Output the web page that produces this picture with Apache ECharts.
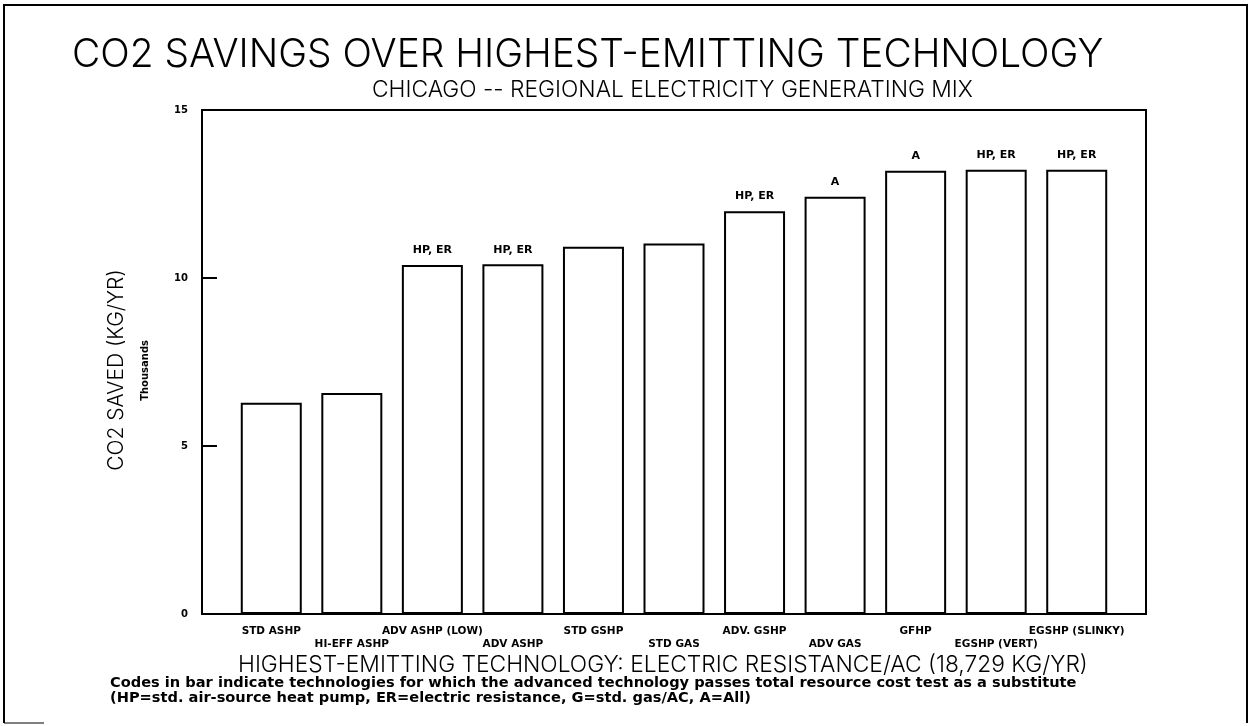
<!DOCTYPE html>
<html>
<head>
<meta charset="utf-8">
<script src="https://cdn.jsdelivr.net/npm/echarts@6/dist/echarts.min.js"></script>
<style>
  html, body { margin: 0; padding: 0; background: #fff; }
  #chart { width: 1250px; height: 726px; }
</style>
</head>
<body>
<div id="chart"></div>
<script>
// technologies, in bar order
var techs = ['STD ASHP', 'HI-EFF ASHP', 'ADV ASHP (LOW)', 'ADV ASHP', 'STD GSHP', 'STD GAS',
    'ADV. GSHP', 'ADV GAS', 'GFHP', 'EGSHP (VERT)', 'EGSHP (SLINKY)'];
// CO2 saved, thousands of kg/yr
var saved = [6.29, 6.58, 10.39, 10.41, 10.93, 11.03, 11.99, 12.42, 13.19, 13.22, 13.22];
// codes printed above the bars
var codes = ['', '', 'HP, ER', 'HP, ER', '', '', 'HP, ER', 'A', 'A', 'HP, ER', 'HP, ER'];
var yTicks = [0, 5, 10, 15];

var thinFont = 'Inter';
var plotFont = 'DejaVu Sans';

var chart = echarts.init(document.getElementById('chart'));
chart.setOption({
    animation: false,
    backgroundColor: '#fff',
    title: [{
        text: 'CO2 SAVINGS OVER HIGHEST-EMITTING TECHNOLOGY',
        left: 67, top: 31,
        textStyle: { fontFamily: thinFont, fontWeight: 300, fontSize: 38.8, color: '#000' }
    }, {
        text: 'CHICAGO -- REGIONAL ELECTRICITY GENERATING MIX',
        left: 367, top: 74,
        textStyle: { fontFamily: thinFont, fontWeight: 300, fontSize: 22.8, color: '#000' }
    }, {
        text: 'HIGHEST-EMITTING TECHNOLOGY: ELECTRIC RESISTANCE/AC (18,729 KG/YR)',
        left: 233, top: 649,
        textStyle: { fontFamily: thinFont, fontWeight: 300, fontSize: 22.8, color: '#000' }
    }, {
        text: 'Codes in bar indicate technologies for which the advanced technology passes total resource cost test as a substitute\n(HP=std. air-source heat pump, ER=electric resistance, G=std. gas/AC, A=All)',
        left: 105, top: 671,
        textStyle: { fontFamily: plotFont, fontWeight: 'bold', fontSize: 14.6, lineHeight: 15, color: '#000' }
    }],
    graphic: [{
        type: 'text',
        left: 140, top: 340,
        rotation: Math.PI / 2,
        style: { text: 'Thousands', font: 'bold 10px "DejaVu Sans"', fill: '#000' }
    }, {
        type: 'polyline',
        shape: { points: [[4, 723], [4, 5], [1247, 5], [1247, 723]] },
        style: { stroke: '#000', lineWidth: 2, fill: null }
    }, {
        type: 'line',
        shape: { x1: 4, y1: 723, x2: 44, y2: 723 },
        style: { stroke: '#000', lineWidth: 1 }
    }],
    grid: [
        { left: 202, top: 110, width: 944, height: 504, show: true, borderColor: '#000', borderWidth: 2, backgroundColor: 'transparent' },
        { left: 231, top: 110, width: 886, height: 504 }
    ],
    xAxis: [{
        gridIndex: 0, type: 'category', data: [''], show: false
    }, {
        gridIndex: 1, type: 'category', data: techs,
        axisLine: { show: false }, axisTick: { show: false },
        axisLabel: {
            interval: 0, margin: 11,
            fontFamily: plotFont, fontWeight: 'bold', fontSize: 10.5, color: '#000', lineHeight: 13,
            formatter: function (v, i) { return i % 2 ? '\n' + v : v + '\n'; }
        }
    }],
    yAxis: [{
        gridIndex: 0, type: 'value', min: 0, max: 15, interval: 5,
        name: 'CO2 SAVED (KG/YR)', nameLocation: 'middle', nameRotate: 90, nameGap: 75,
        nameTextStyle: { fontFamily: thinFont, fontWeight: 300, fontSize: 21, color: '#000', padding: [0, 16, 0, 0] },
        axisLine: { show: false },
        axisTick: { show: true, inside: true, length: 15, lineStyle: { color: '#000', width: 2 } },
        splitLine: { show: false },
        axisLabel: {
            margin: 14, fontFamily: plotFont, fontWeight: 'bold', fontSize: 10, color: '#000',
            formatter: function (v) { return yTicks.indexOf(v) >= 0 ? String(v) : ''; }
        }
    }, {
        gridIndex: 1, type: 'value', min: 0, max: 15, show: false
    }],
    series: [{
        type: 'bar',
        xAxisIndex: 1, yAxisIndex: 1,
        data: saved,
        barWidth: 61,
        itemStyle: { color: '#fff', borderColor: '#000', borderWidth: 2 },
        label: {
            show: true, position: 'top', distance: 9,
            fontFamily: plotFont, fontWeight: 'bold', fontSize: 11, color: '#000',
            formatter: function (p) { return codes[p.dataIndex]; }
        }
    }]
});
</script>
</body>
</html>
